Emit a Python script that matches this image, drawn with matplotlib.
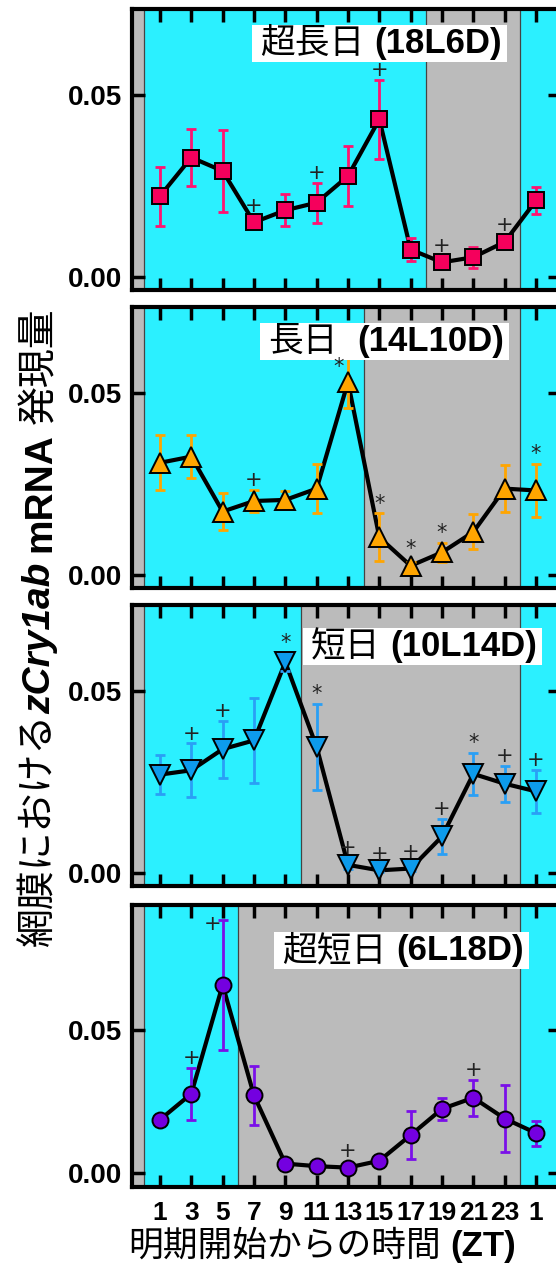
import matplotlib.pyplot as plt
from matplotlib.patches import Rectangle

# x axis: sampling times (ZT)
zt = [1, 3, 5, 7, 9, 11, 13, 15, 17, 19, 21, 23, 25]
zt_labels = ['1', '3', '5', '7', '9', '11', '13', '15', '17', '19', '21', '23', '1']

# panel names and photoperiods (hours of light)
names_jp = ['超長日', '長日', '短日', '超短日']
names_code = ['(18L6D)', '(14L10D)', '(10L14D)', '(6L18D)']
light_hours = [18, 14, 10, 6]

# mean +- SE for each photoperiod
mean_18L6D = [0.0222, 0.0328, 0.0291, 0.0150, 0.0183, 0.0204, 0.0277, 0.0433, 0.0075, 0.0040, 0.0054, 0.0096, 0.0210]
se_18L6D = [0.0081, 0.0079, 0.0112, 0.0015, 0.0044, 0.0055, 0.0083, 0.0108, 0.0031, 0.0010, 0.0029, 0.0015, 0.0037]
sig_18L6D = ['', '', '', '+', '', '+', '', '+', '', '+', '', '+', '']

mean_14L10D = [0.0308, 0.0325, 0.0174, 0.0203, 0.0206, 0.0237, 0.0530, 0.0103, 0.0025, 0.0062, 0.0118, 0.0237, 0.0232]
se_14L10D = [0.0075, 0.0059, 0.0050, 0.0031, 0.0025, 0.0067, 0.0072, 0.0066, 0.0010, 0.0026, 0.0048, 0.0065, 0.0073]
sig_14L10D = ['', '', '', '+', '', '', '*', '*', '*', '*', '', '', '*']

mean_10L14D = [0.0270, 0.0282, 0.0340, 0.0364, 0.0579, 0.0346, 0.0022, 0.0007, 0.0012, 0.0100, 0.0272, 0.0245, 0.0224]
se_10L14D = [0.0053, 0.0074, 0.0078, 0.0117, 0.0025, 0.0118, 0.0010, 0.0005, 0.0008, 0.0049, 0.0057, 0.0050, 0.0060]
sig_10L14D = ['', '+', '+', '', '*', '*', '+', '+', '+', '+', '*', '+', '+']

mean_6L18D = [0.0187, 0.0278, 0.0660, 0.0272, 0.0033, 0.0024, 0.0019, 0.0043, 0.0133, 0.0225, 0.0264, 0.0191, 0.0140]
se_6L18D = [0.0010, 0.0092, 0.0227, 0.0104, 0.0008, 0.0008, 0.0008, 0.0008, 0.0083, 0.0038, 0.0063, 0.0116, 0.0044]
sig_6L18D = ['', '+', '+', '', '', '', '+', '', '', '', '+', '', '']

means = [mean_18L6D, mean_14L10D, mean_10L14D, mean_6L18D]
ses = [se_18L6D, se_14L10D, se_10L14D, se_6L18D]
sigs = [sig_18L6D, sig_14L10D, sig_10L14D, sig_6L18D]

# styles
markers = ['s', '^', 'v', 'o']
msizes = [11, 14, 14, 11.5]
face_colors = ['#F5005C', '#FFA500', '#0D9BEC', '#7400E0']
err_colors = ['#FF1470', '#FFA500', '#2A9FF5', '#7A10E8']
cyan = '#2BF0FF'
gray = '#BBBBBB'
JP = ['Noto Sans CJK JP']
LAT = ['Liberation Sans', 'DejaVu Sans']
# marks that sit to the left of the error bar instead of above it (panel, point, offset)
side_marks = {(1, 6): (-7, -8), (3, 2): (-7, -3)}

W, H = 556, 1264
fig = plt.figure(figsize=(W / 100, H / 100), dpi=100)
renderer = fig.canvas.get_renderer()

# axes boxes in pixels (top, bottom)
panel_px = [(9, 290), (307, 588), (605, 886), (905, 1187)]
ylims = [(-0.0036, 0.0736), (-0.0036, 0.0736), (-0.0036, 0.0736), (-0.0049, 0.094)]
title_pos = [(0.300, 0.842), (0.317, 0.842), (0.418, 0.818), (0.350, 0.804)]
title_gap = [10, 20, 10, 10]
xl, xr = -0.785, 26.53
ax_left, ax_right = 132, 560


def place_parts(texts, gaps, x0, y0, rotation, to_frac):
    # lay out text pieces one after the other (left to right or bottom to top)
    pos = 0
    for t, g in zip(texts, gaps):
        bb = t.get_window_extent(renderer)
        if rotation == 90:
            t.set_position((x0, y0 + pos / to_frac))
            pos += bb.height + g
        else:
            t.set_position((x0 + pos / to_frac, y0))
            pos += bb.width + g
    return pos


for i in range(4):
    top, bot = panel_px[i]
    ax = fig.add_axes([ax_left / W, 1 - bot / H, (ax_right - ax_left) / W, (bot - top) / H])
    ax.set_facecolor(cyan)
    ax.set_xlim(xl, xr)
    ax.set_ylim(*ylims[i])

    # dark periods
    ax.axvspan(xl, 0, color=gray, lw=0, zorder=0)
    ax.axvspan(light_hours[i], 24, color=gray, lw=0, zorder=0)
    for b in [0, light_hours[i], 24]:
        ax.axvline(b, color='#444444', lw=0.9, zorder=0.5)

    # line, error bars, markers
    ax.plot(zt, means[i], color='black', lw=3, zorder=2)
    ax.errorbar(zt, means[i], yerr=ses[i], fmt='none', ecolor=err_colors[i],
                elinewidth=2, capsize=3.5, capthick=2, zorder=3)
    ax.plot(zt, means[i], ls='none', marker=markers[i], ms=msizes[i],
            mfc=face_colors[i], mec='black', mew=1.4, zorder=4)

    # significance marks
    y_per_px = (ylims[i][1] - ylims[i][0]) / (bot - top)
    for j, (x, m, s, g) in enumerate(zip(zt, means[i], ses[i], sigs[i])):
        if g == '':
            continue
        if (i, j) in side_marks:
            xy, off = (x, m + s), side_marks[(i, j)]
        else:
            xy, off = (x, max(m + s, m + 7 * y_per_px)), (0, 7)
        ax.annotate(g, xy=xy, xytext=off, textcoords='offset points',
                    ha='center', va='center', fontsize=15, family='DejaVu Sans',
                    color='#222222', zorder=9, annotation_clip=False)

    # axis styling
    for sp in ax.spines.values():
        sp.set_linewidth(3)
    ax.set_xticks(zt)
    ax.set_yticks([0, 0.05])
    ax.set_yticklabels(['0.00', '0.05'], fontsize=20, fontweight='bold', family=LAT)
    ax.tick_params(direction='in', length=9, width=2.5, top=True, right=True, pad=7)
    if i == 3:
        ax.set_xticklabels(zt_labels, fontsize=19, fontweight='bold', family=LAT)
        ax.tick_params(axis='x', pad=10)
    else:
        ax.set_xticklabels([])

    # panel title with white box
    tx, ty = title_pos[i]
    t1 = ax.text(0, 0, names_jp[i], transform=ax.transAxes, fontsize=25, family=JP,
                 ha='left', va='baseline', zorder=8)
    t2 = ax.text(0, 0, names_code[i], transform=ax.transAxes, fontsize=25, fontweight='bold',
                 family=LAT, ha='left', va='baseline', zorder=8)
    place_parts([t1, t2], [title_gap[i], 0], tx, ty, 0, ax.bbox.width)
    b1 = t1.get_window_extent(renderer)
    b2 = t2.get_window_extent(renderer)
    x0 = min(b1.x0, b2.x0) - 8
    x1 = max(b1.x1, b2.x1) + 5
    y0 = min(b1.y0, b2.y0) - 1
    y1 = max(b1.y1, b2.y1) + 1
    inv = ax.transAxes.inverted()
    (ax0, ay0), (ax1, ay1) = inv.transform([(x0, y0), (x1, y1)])
    ax.add_patch(Rectangle((ax0, ay0), ax1 - ax0, ay1 - ay0, transform=ax.transAxes,
                           facecolor='white', edgecolor='none', zorder=7))

# y label: 網膜における zCry1ab mRNA 発現量 (rotated, mixed fonts)
ylab = [fig.text(0, 0, '網膜における', fontsize=28, family=JP, rotation=90,
                 rotation_mode='anchor', ha='left', va='baseline'),
        fig.text(0, 0, 'zCry1ab', fontsize=28, fontweight='bold', style='italic', family=LAT,
                 rotation=90, rotation_mode='anchor', ha='left', va='baseline'),
        fig.text(0, 0, 'mRNA', fontsize=28, fontweight='bold', family=LAT, rotation=90,
                 rotation_mode='anchor', ha='left', va='baseline'),
        fig.text(0, 0, '発現量', fontsize=28, family=JP, rotation=90,
                 rotation_mode='anchor', ha='left', va='baseline')]
gaps = [0, 10, 10, 0]
total = place_parts(ylab, gaps, 0, 0, 90, H)
place_parts(ylab, gaps, 50 / W, (H - 627) / H - total / 2 / H, 90, H)

# x label: 明期開始からの時間 (ZT)
xlab = [fig.text(0, 0, '明期開始からの時間', fontsize=25, family=JP, ha='left', va='baseline'),
        fig.text(0, 0, '(ZT)', fontsize=25, fontweight='bold', family=LAT, ha='left', va='baseline')]
gaps = [9, 0]
total = place_parts(xlab, gaps, 0, 0, 0, W)
place_parts(xlab, gaps, 322 / W - total / 2 / W, (H - 1256) / H, 0, W)

fig.savefig('out.png', dpi=100)
